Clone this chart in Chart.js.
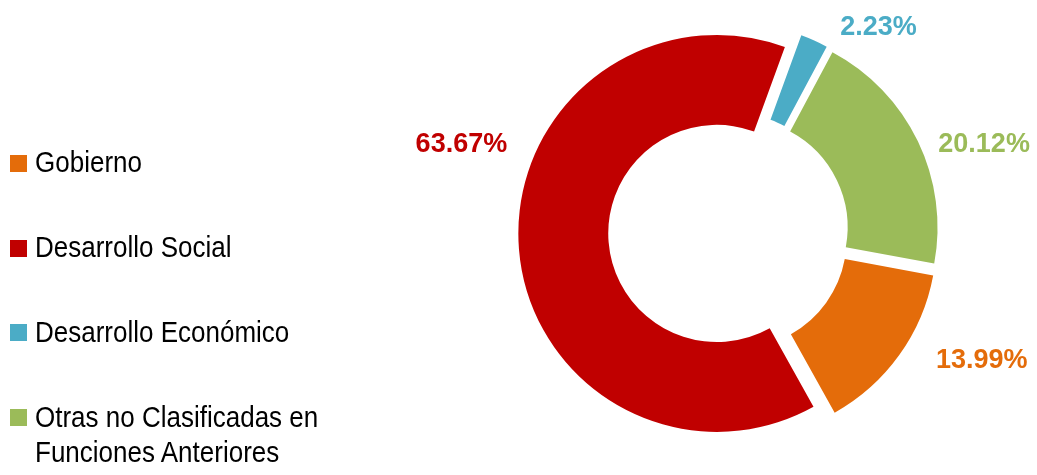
<!DOCTYPE html>
<html>
<head>
<meta charset="utf-8">
<script src="https://cdn.jsdelivr.net/npm/chart.js@4/dist/chart.umd.min.js"></script>
<style>
  html, body { margin: 0; padding: 0; background: #fff; }
  #wrap { position: relative; width: 1037px; height: 475px; overflow: hidden; }
  #myChart { position: absolute; left: 0; top: 0; }
  #legend { position: absolute; left: 0; top: 0; width: 340px; height: 475px;
            font-family: "Liberation Sans", Arial, sans-serif; font-size: 26px; color: #000; }
  .sq { position: absolute; left: 10px; width: 17px; height: 17px; }
  .txt { position: absolute; left: 35px; line-height: 31.25px; white-space: nowrap;
         transform: scaleY(1.12); transform-origin: 0 24.6px; }
</style>
</head>
<body>
<div id="wrap">
  <canvas id="myChart" width="1037" height="475"></canvas>
  <div id="legend"></div>
</div>
<script>
// data
const categories = ['Gobierno', 'Desarrollo Social', 'Desarrollo Económico',
                    ['Otras no Clasificadas en', 'Funciones Anteriores']];
const shares = [13.99, 63.67, 2.23, 20.12];
const sliceColors = ['#E46C0A', '#C00000', '#4BACC6', '#9BBB59'];

// where each percentage label sits (degrees clockwise from top, distance from centre to baseline)
const labelSpots = [
    { angle: 118.1, dist: 287 },
    { angle: 286.8, dist: 279 },
    { angle: 37.2, dist: 248 },
    { angle: 72.5, dist: 268 }
];

// html legend
const legend = document.getElementById('legend');
for (let i = 0; i < categories.length; i++) {
    const sq = document.createElement('div');
    sq.className = 'sq';
    sq.style.top = (155 + i * 84.7) + 'px';
    sq.style.background = sliceColors[i];
    legend.appendChild(sq);

    const txt = document.createElement('div');
    txt.className = 'txt';
    txt.style.top = (155 + i * 84.7 - 6.6) + 'px';
    const lines = Array.isArray(categories[i]) ? categories[i] : [categories[i]];
    lines.forEach((l, j) => {
        if (j > 0) txt.appendChild(document.createElement('br'));
        txt.appendChild(document.createTextNode(l));
    });
    legend.appendChild(txt);
}

// exploded slices: move every arc outwards without changing its radius
const explodePlugin = {
    id: 'explode',
    beforeDatasetDraw(chart, args, opts) {
        const ctx = chart.ctx;
        args.meta.data.forEach(arc => {
            const mid = (arc.startAngle + arc.endAngle) / 2;
            ctx.save();
            ctx.translate(Math.cos(mid) * opts.distance, Math.sin(mid) * opts.distance);
            arc.draw(ctx, chart.chartArea);
            ctx.restore();
        });
        return false;
    }
};

const pctLabels = {
    id: 'pctLabels',
    afterDatasetsDraw(chart) {
        const ctx = chart.ctx;
        const meta = chart.getDatasetMeta(0);
        ctx.save();
        ctx.font = 'bold 27px "Liberation Sans", Arial, sans-serif';
        ctx.textAlign = 'center';
        ctx.textBaseline = 'alphabetic';
        meta.data.forEach((arc, i) => {
            const a = labelSpots[i].angle * Math.PI / 180;
            const x = arc.x + Math.sin(a) * labelSpots[i].dist;
            const y = arc.y - Math.cos(a) * labelSpots[i].dist;
            ctx.fillStyle = sliceColors[i];
            ctx.fillText(shares[i].toFixed(2) + '%', x, y);
        });
        ctx.restore();
    }
};

const ctx = document.getElementById('myChart');

new Chart(ctx, {
    type: 'doughnut',
    data: {
        labels: categories,
        datasets: [{
            data: shares,
            backgroundColor: sliceColors,
            borderWidth: 0,
            hoverBorderWidth: 0,
            offset: 0,
            hoverOffset: 0
        }]
    },
    options: {
        responsive: false,
        animation: false,
        rotation: 100.5,
        cutout: '54.7%',
        layout: {
            padding: { left: 530, top: 34, right: 110, bottom: 44 }
        },
        plugins: {
            legend: { display: false },
            tooltip: { enabled: false },
            explode: { distance: 11.7 }
        },
        events: []
    },
    plugins: [explodePlugin, pctLabels]
});
</script>
</body>
</html>
